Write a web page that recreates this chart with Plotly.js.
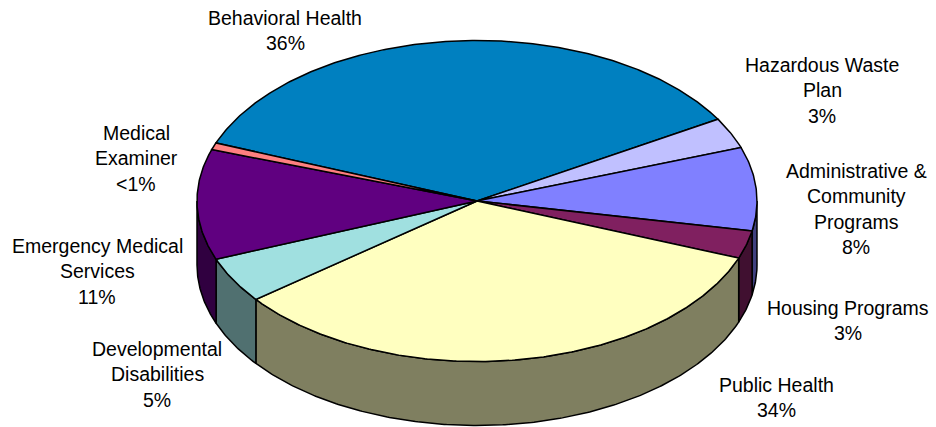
<!DOCTYPE html>
<html>
<head>
<meta charset="utf-8">
<script src="https://cdn.plot.ly/plotly-3.0.1.min.js"></script>
<style>html,body{margin:0;padding:0;background:#fff;}#chart{width:936px;height:427px;}</style>
</head>
<body>
<div id="chart"></div>
<script>
// ---- data (clockwise order, starting from Behavioral Health) ----
var categories = ["Behavioral Health", "Hazardous Waste Plan", "Administrative & Community Programs",
  "Housing Programs", "Public Health", "Developmental Disabilities", "Emergency Medical Services", "Medical Examiner"];
var labelLines = [["Behavioral Health"], ["Hazardous Waste", "Plan"], ["Administrative &", "Community", "Programs"],
  ["Housing Programs"], ["Public Health"], ["Developmental", "Disabilities"], ["Emergency Medical", "Services"], ["Medical", "Examiner"]];
var values = [35.6, 3.1, 8.4, 2.8, 33.7, 4.6, 11.1, 0.7];

// ---- styles / layout constants ----
var topColors = ["#0080C0", "#C0C0FF", "#8080FF", "#802060", "#FFFFC0", "#A0E0E0", "#600080", "#FF8080"];
var labelPos = [[285, 18], [822, 65], [856, 171], [848, 308], [776, 385], [157, 349], [97, 246], [136, 133]];
var lineGap = 25.3;
var geo = {cx: 477, cy: 201, rx: 280, ry: 160.5, depth: 64, start: 158.8};

function darken(hex) {
  var r = parseInt(hex.substr(1, 2), 16) >> 1, g = parseInt(hex.substr(3, 2), 16) >> 1, b = parseInt(hex.substr(5, 2), 16) >> 1;
  return "rgb(" + r + "," + g + "," + b + ")";
}
function pt(t, dy) {
  var a = t * Math.PI / 180;
  return [geo.cx + geo.rx * Math.cos(a), geo.cy - geo.ry * Math.sin(a) + (dy || 0)];
}
function arc(a0, a1, dy) { // from a0 to a1 (any direction)
  var n = Math.max(2, Math.ceil(Math.abs(a1 - a0) / 0.5));
  var out = [];
  for (var i = 0; i <= n; i++) out.push(pt(a0 + (a1 - a0) * i / n, dy));
  return out;
}

var total = values.reduce(function (s, v) { return s + v; }, 0);
var slices = [];
var acc = 0;
for (var i = 0; i < values.length; i++) {
  var a0 = geo.start - 360 * acc / total;
  acc += values[i];
  var a1 = geo.start - 360 * acc / total;
  slices.push({hi: a0, lo: a1});
}

var traces = [];
// side walls (front half: angles between -180 and 0)
slices.forEach(function (s, i) {
  var lo = Math.max(s.lo, -180), hi = Math.min(s.hi, 0);
  if (hi <= lo) return;
  var pts = arc(hi, lo, 0).concat(arc(lo, hi, geo.depth));
  pts.push(pts[0]);
  traces.push({type: "scatter", mode: "lines", x: pts.map(function (p) { return p[0]; }), y: pts.map(function (p) { return p[1]; }),
    fill: "toself", fillcolor: darken(topColors[i]), line: {color: "#000", width: 1.5}, hoverinfo: "skip"});
});
// top faces
slices.forEach(function (s, i) {
  var pts = [[geo.cx, geo.cy]].concat(arc(s.hi, s.lo, 0));
  pts.push([geo.cx, geo.cy]);
  traces.push({type: "scatter", mode: "lines", x: pts.map(function (p) { return p[0]; }), y: pts.map(function (p) { return p[1]; }),
    fill: "toself", fillcolor: topColors[i], line: {color: "#000", width: 1.5}, hoverinfo: "skip", name: categories[i]});
});

var annotations = [];
labelLines.forEach(function (lines, i) {
  var pct = values[i] < 1 ? "<1%" : Math.round(values[i] / total * 100) + "%";
  var all = lines.concat([pct]);
  all.forEach(function (txt, k) {
    annotations.push({x: labelPos[i][0], y: labelPos[i][1] + k * lineGap, xref: "x", yref: "y", text: txt.replace(/&/g, "&amp;").replace(/</g, "&lt;"),
      showarrow: false, xanchor: "center", yanchor: "middle",
      font: {family: "Arial, 'Liberation Sans', sans-serif", size: 19.5, color: "#000"}});
  });
});

var layout = {
  width: 936, height: 427, margin: {l: 0, r: 0, t: 0, b: 0},
  paper_bgcolor: "#fff", plot_bgcolor: "#fff", showlegend: false,
  xaxis: {range: [0, 936], visible: false, fixedrange: true},
  yaxis: {range: [427, 0], visible: false, fixedrange: true},
  annotations: annotations
};
Plotly.newPlot("chart", traces, layout, {staticPlot: true, displayModeBar: false});
</script>
</body>
</html>
